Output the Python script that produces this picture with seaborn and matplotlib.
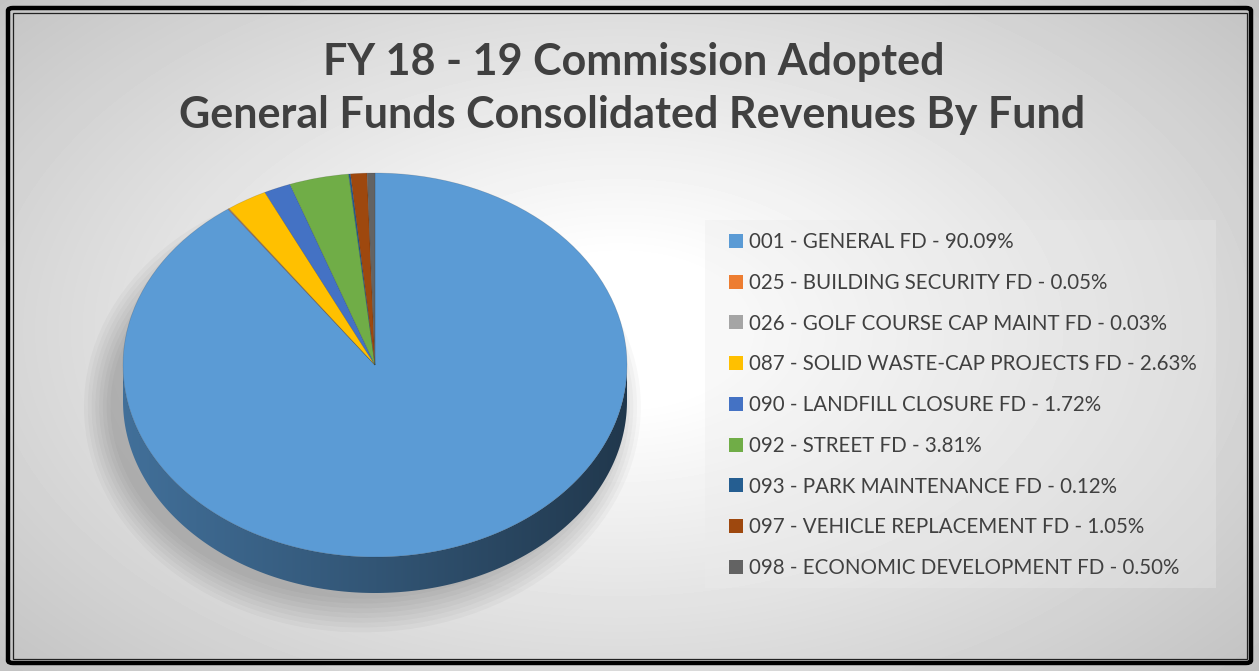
import numpy as np
import seaborn as sns
import matplotlib.pyplot as plt
from matplotlib.patches import Patch, Rectangle, FancyBboxPatch, Ellipse, Polygon
from matplotlib.colors import LinearSegmentedColormap

### FY 18-19 revenues by fund (3D looking pie, Excel style)

codes = ['001', '025', '026', '087', '090', '092', '093', '097', '098']
names = ['GENERAL FD', 'BUILDING SECURITY FD', 'GOLF COURSE CAP MAINT FD',
         'SOLID WASTE-CAP PROJECTS FD', 'LANDFILL CLOSURE FD', 'STREET FD',
         'PARK MAINTENANCE FD', 'VEHICLE REPLACEMENT FD', 'ECONOMIC DEVELOPMENT FD']
pcts = [90.09, 0.05, 0.03, 2.63, 1.72, 3.81, 0.12, 1.05, 0.50]
colors = ['#5B9BD5', '#ED7D31', '#A5A5A5', '#FFC000', '#4472C4',
          '#70AD47', '#255E91', '#9E480E', '#636363']

title1 = 'FY 18 - 19 Commission Adopted'
title2 = 'General Funds Consolidated Revenues By Fund'

sns.set_theme(style='white')
plt.rcParams['font.family'] = ['Lato', 'DejaVu Sans']
pal = sns.color_palette(colors)

W, H = 1259, 671
fig = plt.figure(figsize=(W / 100, H / 100), dpi=100)

# background gradient (white middle, grey corners)
bg = fig.add_axes([0, 0, 1, 1], zorder=0)
yy, xx = np.mgrid[0:H, 0:W]
r = np.sqrt(((xx - 620) / 700.0) ** 2 + ((yy - 330) / 420.0) ** 2)
shade = np.clip(1.04 - 0.23 * r, 0, 1)
bg.imshow(shade, cmap='gray', vmin=0, vmax=1, extent=(0, W, H, 0), aspect='auto')
bg.set_xlim(0, W)
bg.set_ylim(H, 0)
bg.axis('off')

# pie axes, pixels mapped so the ellipse sits where it should
cx, cy, rx, ry = 375, 365, 252, 192
depth = 36 / ry
ax = fig.add_axes([0, 0, 1, 1], zorder=1)
ax.patch.set_alpha(0)

# soft shadow
for k in range(8):
    ax.add_patch(Ellipse((-0.05, -depth - 0.03), 2.0 + 0.03 * k, 2.0 + 0.05 * k,
                         facecolor='black', alpha=0.028, lw=0, zorder=0.2))

wedges, _ = ax.pie(pcts, colors=pal, startangle=90, counterclock=False,
                   radius=1, center=(0, 0),
                   wedgeprops=dict(edgecolor=(0, 0, 0, 0.15), linewidth=0.5))
for w in wedges:
    w.set_zorder(3)

ax.set_aspect('auto')
ax.set_xlim(-cx / rx, (W - cx) / rx)
ax.set_ylim(-(H - cy) / ry, cy / ry)

# side of the pie, only the front half shows
grad = np.linspace(-1, 1, 256)[None, :]
for w, c in zip(wedges, pal):
    t = np.radians(np.linspace(w.theta1, w.theta2, 400))
    low = np.sin(t) <= 0
    if not low.any():
        continue
    idx = np.flatnonzero(low)
    runs = np.split(idx, np.flatnonzero(np.diff(idx) > 1) + 1)
    c = np.array(c)
    cmap = LinearSegmentedColormap.from_list(
        'side', [tuple(c * 0.72), tuple(c * 0.55), tuple(c * 0.36)])
    for run in runs:
        tt = t[run]
        xs = np.concatenate([np.cos(tt), np.cos(tt[::-1])])
        ys = np.concatenate([np.sin(tt), np.sin(tt[::-1]) - depth])
        poly = Polygon(np.column_stack([xs, ys]), closed=True, fc='none', lw=0)
        ax.add_patch(poly)
        im = ax.imshow(grad, cmap=cmap, vmin=-1, vmax=1, aspect='auto',
                       extent=(-1, 1, -1 - depth, 0), zorder=2,
                       interpolation='bilinear')
        im.set_clip_path(poly)

ax.set_aspect('auto')
ax.set_xlim(-cx / rx, (W - cx) / rx)
ax.set_ylim(-(H - cy) / ry, cy / ry)
ax.axis('off')

# titles
fig.text(634 / W, 1 - 75 / H, title1, ha='center', va='baseline',
         fontsize=31, fontweight='bold', color='#404040')
fig.text(632 / W, 1 - 128 / H, title2, ha='center', va='baseline',
         fontsize=31, fontweight='bold', color='#404040')

# legend box + legend
fig.patches.append(Rectangle((705 / W, 1 - 588 / H), (1216 - 705) / W, (588 - 220) / H,
                             transform=fig.transFigure, facecolor='#ebebeb',
                             alpha=0.35, lw=0, zorder=1))
labels = [f'{c} - {n} - {p:.2f}%' for c, n, p in zip(codes, names, pcts)]
handles = [Patch(facecolor=c, edgecolor='none') for c in pal]
leg = fig.legend(handles, labels, loc='upper left',
                 bbox_to_anchor=(729 / W, 1 - 232 / H), borderaxespad=0,
                 borderpad=0, frameon=False, fontsize=14.8, labelcolor='#404040',
                 handlelength=0.67, handleheight=0.67, handletextpad=0.3,
                 labelspacing=1.01)
leg.set_zorder(4)

# double border
fig.patches.append(FancyBboxPatch((8 / W, 8 / H), (W - 16) / W, (H - 16) / H,
                                  boxstyle='round,pad=0,rounding_size=0.004',
                                  transform=fig.transFigure, fill=False,
                                  ec='black', lw=3.2, zorder=5))
fig.patches.append(Rectangle((12.5 / W, 12.5 / H), (W - 25) / W, (H - 25) / H,
                             transform=fig.transFigure, fill=False,
                             ec='#222222', lw=0.9, zorder=5))

fig.savefig('out.png', dpi=100)
